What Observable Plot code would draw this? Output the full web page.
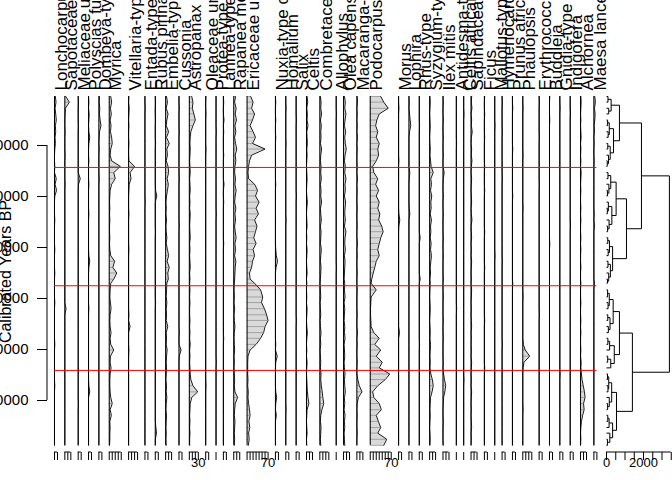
<!DOCTYPE html>
<html><head><meta charset="utf-8">
<script src="https://cdn.jsdelivr.net/npm/d3@7"></script>
<script src="https://cdn.jsdelivr.net/npm/@observablehq/plot@0.6"></script>
<style>
html,body{margin:0;padding:0;background:#fff;overflow:hidden;}
#chart{position:relative;width:672px;height:480px;}
#chart svg{position:absolute;left:0;top:0;}
</style></head><body><div id="chart"></div>
<script>
// ---------- data ----------
const ages = [400,1500,2700,3800,5000,6100,7300,8400,9600,10700,
 11900,13000,14100,15300,16500,17600,18800,19900,21100,22300,
 23400,24600,25800,26900,28100,29200,30400,31600,32700,33900,
 35000,36200,37000,38300,39700,40800,42000,43200,44300,45500,
 46700,47800,49000,50100,51300,52500,53600,54800,55900,57100,
 58300,59400,60600,61800,62900,64100,65300,66400,67600,68800];

const taxa = ["Lonchocarpus","Sapotaceae","Meliaceae undiff.","Polyscias fulva","Dombeya-type","Myrica",
 "Vitellaria-type","Entada-type","Rubus pinnatus","Embelia-type","Cussonia","Astropanax",
 "Oleaceae undiff.","Protea-type","Lannea-type","Rapanea melanophloeos","Ericaceae undiff.",
 "Nuxia-type congesta","Homalium","Salix","Celtis","Combretaceae","Allophylus","Olea capensis",
 "Macaranga-type","Podocarpus","Morus","Lophira","Rhus-type","Syzygium-type","Ilex mitis",
 "Antidesma-type","Celtis africana","Sapindaceae","Ficus","Mallotus-type","Hymenocardia",
 "Prunus africana","Phaulopsis","Erythrococca","Buddleja","Gnidia-type","Indigofera","Alchornea",
 "Maesa lanceolata"];

const axisMax = [10,20,10,10,10,40,30,10,10,20,10,30,10,0,10,20,70,
 10,10,10,20,30,0,20,20,70,
 10,10,10,20,20,0,0,20,10,0,10,10,30,10,10,10,10,20,10];

const lonchocarpus=[3,5,2,4,6,3,4,2,3,1, 0,0,1,0,6,2,7,1,0,0, 0,1,0,0,0,0,1,0,0,0, 1,0,0,0,0,1,0,0,0,0, 0,0,1,0,0,0,0,0,0,1, 0,0,0,0,0,0,0,0,0,0];
const sapotaceae=[3,15,2,1,0,0,1,0,0,0, 1,0,0,0,0,1,0,0,0,0, 0,0,0,0,0,0,0,0,0,0, 0,0,0,0,0,0,4,0,0,0, 0,0,0,0,0,0,0,0,0,0, 0,0,0,0,0,0,0,0,0,0];
const meliaceae=[0,1,0,0,0,1,0,0,0,0, 0,0,0,0,7,1,0,0,0,0, 0,0,0,0,0,0,0,0,0,0, 0,0,0,0,0,0,0,0,0,0, 0,0,0,0,0,0,0,0,0,0, 0,0,1,0,0,0,0,0,0,0];
const polyscias=[0,1,0,2,1,0,1,4,1,0, 0,1,0,0,0,1,0,0,0,0, 1,0,0,0,0,0,0,1,4,1, 0,0,0,0,0,0,1,0,0,0, 0,0,0,0,0,0,0,0,0,1, 4,0,0,0,0,0,0,0,0,0];
const dombeya=[2,1,3,2,4,7,2,1,0,1, 0,0,0,0,1,0,0,0,0,0, 0,0,0,0,0,0,0,0,0,0, 0,0,0,0,0,0,0,0,0,0, 0,0,0,0,0,0,0,0,0,0, 0,0,0,0,0,0,0,0,0,0];
const myrica=[5,8,4,7,3,6,4,8,10,5, 3,8,37,15,20,8,3,2,1,2, 1,2,1,1,2,1,2,5,18,12, 25,15,5,3,2,4,6,3,2,3, 6,3,5,15,4,3,6,3,2,2, 3,5,10,3,7,2,3,2,2,1];
const vitellaria=[1,0,2,1,0,1,0,0,1,0, 0,1,20,5,8,2,1,0,0,0, 1,0,0,0,0,0,1,0,0,0, 0,0,0,0,0,0,0,1,0,5, 0,0,0,1,0,0,0,0,0,0, 0,0,0,0,0,0,0,0,0,0];
const entada=[0,0,1,0,0,0,0,0,0,0, 0,0,0,0,0,0,0,0,1,0, 0,0,0,0,0,0,0,0,0,0, 0,0,0,0,0,0,0,0,0,0, 0,0,0,0,0,0,0,0,0,0, 0,0,0,0,0,0,0,0,0,0];
const rubus=[0,1,0,0,1,0,0,0,1,0, 0,0,0,0,0,0,1,5,0,0, 0,0,0,1,0,0,0,0,0,0, 0,0,0,0,0,1,0,0,0,0, 0,0,0,0,0,0,0,0,0,0, 0,0,0,0,0,0,2,4,0,0];
const embelia=[3,6,2,8,4,2,10,3,12,4, 6,2,8,10,5,9,6,3,1,2, 1,3,1,2,4,2,6,10,5,12, 7,9,4,3,2,4,2,3,2,7, 2,3,2,5,3,2,3,2,1,3, 2,4,2,1,3,2,1,2,1,2];
const cussonia=[0,0,1,0,0,0,1,0,0,0, 0,0,0,0,1,0,0,0,0,0, 0,0,1,0,0,0,0,0,0,0, 0,0,0,0,0,0,0,0,0,0, 1,0,0,7,1,0,0,0,0,0, 0,0,0,0,0,0,0,0,0,0];
const astropanax=[8,12,10,15,20,12,5,3,2,3, 2,1,2,3,1,2,3,1,2,1, 3,2,1,2,3,1,2,1,2,3, 1,2,1,2,1,2,1,1,2,1, 2,1,3,1,2,1,2,3,5,12, 28,8,3,2,1,2,1,2,1,1];
const oleaceae=[1,0,0,1,0,0,0,0,0,1, 0,0,0,0,0,0,0,0,0,0, 0,0,0,0,0,0,0,0,0,0, 0,0,0,0,0,0,0,0,0,0, 0,0,0,0,0,0,0,0,0,1, 0,0,0,0,0,0,0,0,0,0];
const protea=[0,0,0,0,0,0,1,0,0,0, 0,0,0,0,0,0,0,0,0,0, 1,0,0,0,0,0,0,0,0,0, 0,0,0,0,0,0,0,0,0,0, 0,0,0,0,0,1,0,0,0,0, 0,0,0,0,0,0,0,0,0,0];
const lannea=[0,1,0,0,2,0,1,0,0,0, 1,0,0,0,0,2,0,0,1,0, 0,0,0,0,0,1,0,0,0,0, 0,0,0,0,0,0,0,0,0,0, 0,1,0,0,0,0,0,0,0,0, 0,0,0,0,0,0,0,0,0,0];
const rapanea=[6,3,8,5,9,4,7,3,6,10, 5,7,4,3,6,4,8,5,3,7, 4,6,3,5,8,4,6,3,7,5, 4,3,2,1,2,1,3,1,2,4, 2,1,2,3,1,2,1,2,3,2, 4,13,5,3,2,4,3,2,3,2];
const ericaceae=[12,20,15,25,18,10,20,28,18,60, 15,8,5,3,5,25,35,28,40,30, 38,25,33,28,22,30,20,25,18,15, 8,10,25,45,52,48,58,65,70,60, 55,45,30,10,3,2,2,2,3,2, 4,3,5,8,10,6,9,5,7,4];
const nuxia=[0,1,0,0,1,0,0,1,0,0, 0,0,0,0,0,1,0,0,0,0, 0,0,0,0,0,0,1,3,7,2, 0,0,0,0,0,0,0,0,0,0, 0,0,1,0,6,1,0,0,0,0, 1,4,1,0,3,0,0,0,0,0];
const homalium=[0,0,1,0,0,0,0,0,1,0, 0,0,0,0,0,0,0,0,0,0, 0,1,0,0,0,0,0,0,0,0, 0,0,0,0,0,0,0,0,0,0, 0,0,0,0,0,0,0,0,0,0, 0,0,0,1,0,0,0,0,0,0];
const salix=[0,0,0,0,1,0,0,0,0,0, 0,0,0,0,0,0,0,1,0,0, 0,0,0,0,0,0,0,0,0,0, 0,0,0,0,0,0,0,0,1,0, 0,0,0,0,0,0,0,0,0,0, 0,0,0,0,0,0,0,0,0,0];
const celtis=[2,4,1,3,2,5,1,2,3,1, 2,1,0,1,2,1,0,1,3,1, 0,1,2,0,1,0,2,1,0,1, 2,0,1,0,1,0,2,1,0,1, 3,1,0,1,0,2,1,0,1,2, 3,5,8,2,1,0,1,2,0,1];
const combretaceae=[2,4,3,6,2,5,3,4,2,6, 3,2,4,3,5,2,4,3,6,2, 3,5,2,4,3,2,5,3,2,4, 3,2,1,2,3,1,2,3,1,2, 4,2,3,1,2,3,2,4,3,5, 8,10,13,7,3,2,4,3,2,3];
const allophylus=[0,0,0,1,0,0,0,0,0,0, 0,0,0,0,0,0,0,0,0,0, 0,0,0,0,0,0,0,0,0,1, 0,0,0,0,0,0,0,0,0,0, 0,0,0,0,0,0,0,0,0,0, 0,0,0,0,0,0,0,0,0,0];
const oleaCapensis=[3,6,4,8,5,3,7,4,6,9, 5,3,6,4,8,5,6,3,7,5, 4,6,3,8,5,4,6,3,5,4, 3,2,4,3,5,2,4,3,2,4, 3,5,2,3,4,2,3,5,3,4, 6,3,4,2,5,3,4,2,3,4];
const macaranga=[1,2,0,1,0,1,0,2,0,1, 0,0,1,0,2,0,1,0,0,1, 0,0,1,0,0,2,0,1,0,0, 1,0,0,1,0,0,0,1,0,0, 2,0,1,0,0,1,0,0,3,8, 17,5,1,0,1,0,0,1,0,0];
const podocarpus=[35,45,60,30,22,18,25,20,30,25, 28,20,8,12,25,18,28,20,30,25, 32,28,38,43,35,30,25,30,20,15, 10,5,3,20,3,2,1,1,2,3, 12,30,15,35,20,40,30,65,50,25, 8,12,30,37,20,27,35,25,55,45];
const morus=[0,0,1,0,0,0,0,0,0,0, 0,1,0,0,0,0,0,0,0,0, 1,4,1,0,0,0,0,0,0,0, 0,0,0,0,0,0,0,0,0,0, 3,0,0,0,0,0,0,0,0,0, 0,0,0,0,0,0,0,0,0,0];
const lophira=[0,1,0,2,4,6,2,0,0,0, 0,0,0,3,1,0,0,0,0,1, 3,0,0,0,0,0,0,0,0,0, 0,0,0,0,0,0,0,0,0,0, 0,0,0,0,0,0,0,0,0,0, 0,0,0,0,0,0,0,0,0,0];
const rhus=[0,0,0,0,0,1,0,0,0,0, 0,0,0,0,0,0,0,0,0,0, 0,0,0,0,3,0,0,0,0,0, 0,3,0,0,0,0,0,0,0,0, 0,0,1,0,0,0,0,0,0,0, 0,0,0,0,0,0,0,0,0,0];
const syzygium=[1,2,1,0,1,2,1,0,1,2, 1,3,5,12,4,6,3,7,4,5, 2,6,3,4,2,5,3,6,4,2, 3,1,2,1,0,1,2,1,0,1, 2,1,3,2,1,2,1,4,9,12, 8,3,2,1,2,1,0,1,2,1];
const ilex=[0,1,0,0,1,0,0,1,0,0, 1,0,0,4,1,0,0,1,0,0, 1,0,0,0,1,0,0,1,0,0, 0,1,0,0,1,0,0,0,1,0, 0,1,0,0,0,1,0,2,5,9, 6,2,1,0,0,1,0,0,0,1];
const antidesma=[0,0,0,0,0,0,0,0,1,0, 0,0,0,0,0,0,0,0,0,0, 0,0,0,0,0,0,0,0,0,0, 0,0,0,0,0,0,1,0,0,0, 0,0,0,0,0,0,0,0,0,0, 0,0,0,0,0,0,0,0,0,0];
const celtisAfricana=[0,0,0,1,0,0,0,0,0,0, 0,0,0,0,0,0,0,0,0,0, 0,0,0,0,0,0,0,0,0,0, 0,0,0,0,0,0,0,0,0,0, 0,0,0,0,0,0,0,0,1,0, 0,0,0,0,0,0,0,0,0,0];
const sapindaceae=[2,1,3,0,2,1,4,1,0,2, 1,3,1,0,2,1,0,1,2,0, 1,3,0,1,2,0,1,0,2,1, 0,1,0,2,1,0,1,0,1,2, 0,1,0,1,0,2,1,0,1,0, 2,1,0,1,0,1,2,0,1,0];
const ficus=[1,0,0,1,0,0,0,1,0,0, 0,0,1,0,0,0,1,0,0,0, 0,0,0,1,0,0,0,0,0,1, 0,0,0,0,0,0,0,0,1,0, 0,0,0,0,0,0,1,0,0,0, 0,0,0,0,0,0,0,0,0,0];
const mallotus=[0,0,0,0,0,1,0,0,0,0, 0,0,0,0,0,0,0,0,0,0, 0,0,0,0,0,0,0,1,0,0, 0,0,0,0,0,0,0,0,0,0, 0,0,0,0,0,0,0,0,0,0, 0,0,0,0,0,0,0,0,0,0];
const hymenocardia=[0,1,0,0,0,0,1,0,0,0, 0,0,0,0,1,0,0,0,0,0, 0,0,0,0,0,0,0,0,1,0, 0,0,0,0,0,0,0,0,0,0, 0,0,1,0,0,0,0,0,0,0, 0,0,0,0,0,0,0,0,0,0];
const prunus=[0,0,1,0,0,0,0,0,0,1, 0,0,0,0,0,0,0,1,0,0, 0,0,0,0,0,0,0,0,0,0, 0,0,1,0,0,0,0,0,0,0, 0,0,0,0,0,0,0,0,0,0, 0,0,0,0,0,0,0,0,0,0];
const phaulopsis=[0,0,1,0,0,0,0,0,0,0, 1,0,0,0,0,0,0,0,0,1, 0,0,0,0,0,0,0,0,0,0, 0,0,0,0,1,0,0,0,0,0, 0,0,2,8,23,4,1,0,0,0, 0,0,0,1,0,0,0,0,0,0];
const erythrococca=[0,1,0,0,0,0,0,1,0,0, 0,0,0,0,0,1,0,0,0,0, 0,0,0,0,0,0,0,0,0,0, 0,0,0,0,0,0,0,1,0,0, 0,0,0,0,0,0,0,0,0,0, 0,0,0,0,0,0,0,0,0,0];
const buddleja=[1,0,0,0,1,0,0,0,0,0, 0,0,0,0,0,0,0,0,0,0, 0,0,0,0,0,1,0,0,0,0, 0,0,0,0,0,0,0,0,0,0, 0,0,0,0,0,0,0,0,0,0, 0,0,0,0,0,0,0,0,0,0];
const gnidia=[0,0,1,0,0,0,0,0,0,0, 0,0,0,0,0,0,0,0,0,0, 0,0,0,0,0,0,0,0,0,0, 0,0,0,0,0,0,0,0,0,0, 0,0,0,0,0,0,0,1,0,0, 0,0,0,0,0,0,0,0,0,0];
const indigofera=[0,0,0,1,0,0,0,0,0,0, 0,0,0,0,0,0,0,0,0,0, 0,0,1,0,0,0,0,0,0,0, 0,0,0,0,0,0,0,0,0,0, 0,0,0,0,0,0,0,0,0,0, 0,0,0,0,0,0,0,0,0,0];
const alchornea=[1,2,1,0,1,0,1,2,0,1, 0,1,0,2,1,0,1,0,0,1, 0,1,0,0,1,0,1,0,0,1, 0,0,1,0,0,1,0,0,1,0, 1,0,0,1,0,2,1,3,5,9, 13,15,10,12,7,3,1,0,1,0];
const maesa=[3,5,2,4,3,1,2,0,1,0, 0,1,0,0,0,0,0,0,0,0, 1,0,2,0,0,0,0,0,0,0, 0,0,2,0,0,0,0,0,0,0, 0,0,0,0,0,0,0,0,0,0, 0,0,0,0,0,0,0,0,0,0];

const pct = [lonchocarpus,sapotaceae,meliaceae,polyscias,dombeya,myrica,vitellaria,entada,rubus,embelia,
 cussonia,astropanax,oleaceae,protea,lannea,rapanea,ericaceae,nuxia,homalium,salix,celtis,combretaceae,
 allophylus,oleaCapensis,macaranga,podocarpus,morus,lophira,rhus,syzygium,ilex,antidesma,celtisAfricana,
 sapindaceae,ficus,mallotus,hymenocardia,prunus,phaulopsis,erythrococca,buddleja,gnidia,indigofera,
 alchornea,maesa];

const zoneBoundaries = [14300, 37500, 54100];
const yTicks = [10000, 20000, 30000, 40000, 50000, 60000];
const labelledTicks = [["Astropanax", 30], ["Ericaceae undiff.", 70], ["Podocarpus", 70]];

// CONISS dendrogram: [height, left, right]; leaves are sample indices
const dendrogram = [3400,
  [1890,
    [700, [250, [80,0,1], [120,2,3]],
          [380, [150,[60,4,5],[90,6,7]], [200,[70,8,9],[110,10,[40,11,12]]]]],
    [1080, [520, [230,[80,13,14],[130,15,[50,16,17]]], [290,[100,18,[45,19,20]],[140,21,[60,22,23]]]],
           [330, [160,[70,24,25],[90,26,27]], [210,[80,28,29],[120,30,[55,31,32]]]]]],
  [1400,
    [700, [360,[150,[60,33,34],[85,35,36]],[190,[70,37,38],[100,39,40]]],
          [420,[170,[75,41,42],43],[230,[65,44,45],46]]],
    [540, [280,[120,[55,47,48],[80,49,50]],[150,51,[60,52,53]]],
          [330,[140,[70,54,55],56],[180,57,[50,58,59]]]]]];
const dendroTicks = [0, 500, 1000, 1500, 2000, 2500, 3000, 3500];
const dendroLabels = [0, 2000];

// ---------- checks ----------
pct.forEach((a, j) => { if (a.length !== ages.length) throw new Error("bad length " + taxa[j] + " " + a.length); });
if (pct.length !== taxa.length || axisMax.length !== taxa.length) throw new Error("taxa mismatch");

// ---------- layout (strat.plot style: widths proportional to axis max) ----------
const PX_PER_PCT = 0.3, FIRST_GAP = 23.3, GAP = 24.5;
let acc = FIRST_GAP;
const panels = taxa.map((t, j) => { const p = {taxon: t, off: acc, max: axisMax[j], top: ages[0], bottom: ages[ages.length - 1]}; acc += axisMax[j] + GAP; return p; });
const rows = [];
panels.forEach((p, j) => ages.forEach((a, i) => rows.push({taxon: p.taxon, off: p.off, age: a, v: pct[j][i], x: p.off + pct[j][i]})));
const tickVals = [], labelMap = new Map();
panels.forEach(p => { for (let t = 0; t <= p.max; t += 10) tickVals.push(p.off + t); });
labelledTicks.forEach(([t, v]) => { const p = panels.find(q => q.taxon === t); labelMap.set(p.off + v, String(v)); });
const zoneX1 = panels[0].off, zoneX2 = panels[panels.length - 1].off + panels[panels.length - 1].max;

const W = 672, H = 480, ML = 47, MT = 90, MB = 28;
const font = "Liberation Sans, Arial, Helvetica, sans-serif";

function axisLines(segments) {
  return (index, scales, values, dimensions) => {
    const y0 = dimensions.height - dimensions.marginBottom;
    const g = d3.create("svg:g").attr("stroke", "black").attr("stroke-width", 1);
    for (const s of segments) g.append("line").attr("x1", scales.x(s.x1)).attr("x2", scales.x(s.x2)).attr("y1", y0).attr("y2", y0);
    return g.node();
  };
}
function yAxisLine(index, scales, values, dimensions) {
  const g = d3.create("svg:g");
  g.append("line").attr("x1", dimensions.marginLeft).attr("x2", dimensions.marginLeft)
    .attr("y1", scales.y(yTicks[0])).attr("y2", scales.y(yTicks[yTicks.length - 1])).attr("stroke", "black");
  return g.node();
}

const main = Plot.plot({
  width: W, height: H, marginLeft: ML, marginRight: 0, marginTop: MT, marginBottom: MB,
  x: {domain: [0, (W - ML) / PX_PER_PCT], range: [ML, W]},
  y: {domain: [0, 70000], range: [94, 451]},
  style: {fontFamily: font, background: "transparent", overflow: "visible"},
  marks: [
    Plot.areaX(rows, {y: "age", x1: "off", x2: "x", z: "taxon", fill: "#d9d9d9"}),
    Plot.ruleY(rows.filter(d => d.v > 0), {y: "age", x1: "off", x2: "x", stroke: "#8a8a8a", strokeWidth: 0.7}),
    Plot.ruleX(panels, {x: "off", y1: "top", y2: "bottom", stroke: "black", strokeWidth: 1}),
    Plot.lineX(rows, {x: "x", y: "age", z: "taxon", stroke: "black", strokeWidth: 0.9}),
    Plot.ruleY(zoneBoundaries, {x1: () => zoneX1, x2: () => zoneX2, stroke: "#ff0000", strokeWidth: 1}),
    Plot.text(panels, {x: "off", text: "taxon", frameAnchor: "top", rotate: -90, textAnchor: "start", lineAnchor: "top", fontSize: 17, fill: "black"}),
    Plot.axisY({anchor: "left", ticks: yTicks, tickSize: 10, tickPadding: 9, fontSize: 15, tickFormat: d => String(d), label: null}),
    yAxisLine,
    Plot.text(["Calibrated Years BP"], {frameAnchor: "left", dx: -37, rotate: -90, textAnchor: "middle", lineAnchor: "bottom", fontSize: 16, fill: "black"}),
    Plot.axisX({anchor: "bottom", ticks: tickVals, tickSize: 8, tickPadding: -3, fontSize: 13, tickFormat: d => labelMap.get(d) ?? "", label: null}),
    axisLines(panels.filter(p => p.max > 0).map(p => ({x1: p.off, x2: p.off + p.max})))
  ]
});

// dendrogram segments
const segs = [];
function lay(node) {
  if (typeof node === "number") return {y: ages[node], h: 0};
  const [h, a, b] = node; const A = lay(a), B = lay(b);
  segs.push({x1: h, x2: h, y1: A.y, y2: B.y});
  segs.push({x1: A.h, x2: h, y1: A.y, y2: A.y});
  segs.push({x1: B.h, x2: h, y1: B.y, y2: B.y});
  return {y: (A.y + B.y) / 2, h};
}
lay(dendrogram);
const DX0 = 606, DPX = 0.0185;
const dendro = Plot.plot({
  width: W, height: H, marginLeft: DX0, marginRight: 0, marginTop: MT, marginBottom: MB,
  x: {domain: [0, 3500], range: [DX0, DX0 + 3500 * DPX]},
  y: {domain: [0, 70000], range: [94, 451], axis: null},
  style: {fontFamily: font, background: "transparent", overflow: "visible"},
  marks: [
    Plot.link(segs, {x1: "x1", y1: "y1", x2: "x2", y2: "y2", stroke: "black", strokeWidth: 1}),
    Plot.axisX({anchor: "bottom", ticks: dendroTicks, tickSize: 8, tickPadding: -3, fontSize: 13, tickFormat: d => dendroLabels.includes(d) ? String(d) : "", label: null}),
    axisLines([{x1: dendroTicks[0], x2: dendroTicks[dendroTicks.length - 1]}])
  ]
});
document.getElementById("chart").append(main, dendro);
</script></body></html>
